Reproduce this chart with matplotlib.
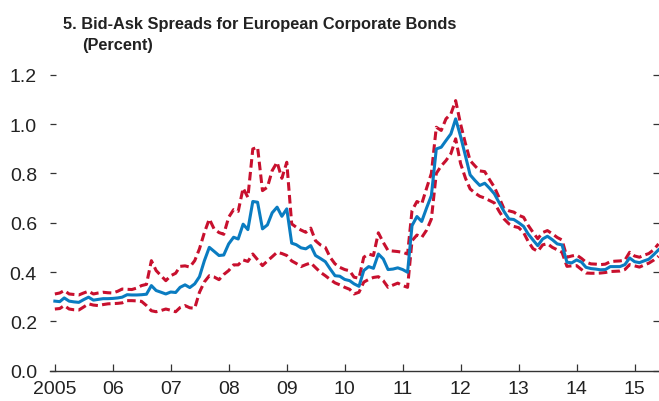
import pandas as pd
import matplotlib
matplotlib.use("Agg")
import matplotlib.pyplot as plt
import matplotlib.dates as mdates

plt.rcParams['font.family'] = ['Liberation Sans', 'DejaVu Sans']

# monthly, end of month, Dec 2004 - May 2015
dates = pd.date_range('2004-12-31', periods=126, freq='ME')

mean_spread = [
    0.282, 0.280, 0.295, 0.282, 0.279, 0.277, 0.288, 0.298, 0.286, 0.289,
    0.292, 0.292, 0.293, 0.295, 0.298, 0.308, 0.307, 0.307, 0.308, 0.310,
    0.345, 0.325, 0.318, 0.311, 0.319, 0.317, 0.338, 0.348, 0.337, 0.352,
    0.381, 0.446, 0.500, 0.484, 0.467, 0.469, 0.514, 0.541, 0.534, 0.594,
    0.572, 0.686, 0.683, 0.575, 0.591, 0.640, 0.663, 0.626, 0.656, 0.517,
    0.511, 0.498, 0.494, 0.507, 0.467, 0.455, 0.442, 0.413, 0.385, 0.383,
    0.370, 0.365, 0.352, 0.342, 0.406, 0.422, 0.415, 0.473, 0.453, 0.410,
    0.412, 0.417, 0.410, 0.399, 0.588, 0.625, 0.605, 0.660, 0.710, 0.899,
    0.906, 0.933, 0.960, 1.021, 0.950, 0.870, 0.794, 0.771, 0.751, 0.760,
    0.740, 0.717, 0.680, 0.645, 0.615, 0.613, 0.600, 0.585, 0.555, 0.530,
    0.507, 0.534, 0.545, 0.531, 0.514, 0.510, 0.440, 0.437, 0.449, 0.440,
    0.419, 0.414, 0.412, 0.409, 0.410, 0.422, 0.422, 0.422, 0.430, 0.457,
    0.442, 0.438, 0.445, 0.452, 0.470, 0.490,
]

upper_band = [
    0.311, 0.315, 0.325, 0.311, 0.309, 0.307, 0.315, 0.322, 0.311, 0.315,
    0.318, 0.316, 0.315, 0.322, 0.331, 0.330, 0.329, 0.335, 0.345, 0.350,
    0.446, 0.406, 0.385, 0.365, 0.385, 0.395, 0.423, 0.425, 0.420, 0.446,
    0.494, 0.560, 0.615, 0.575, 0.560, 0.553, 0.622, 0.653, 0.646, 0.740,
    0.703, 0.899, 0.906, 0.730, 0.744, 0.811, 0.845, 0.780, 0.845, 0.595,
    0.582, 0.570, 0.561, 0.578, 0.527, 0.510, 0.500, 0.460, 0.433, 0.419,
    0.410, 0.405, 0.379, 0.375, 0.460, 0.473, 0.467, 0.559, 0.520, 0.487,
    0.485, 0.483, 0.480, 0.473, 0.649, 0.686, 0.676, 0.740, 0.800, 0.987,
    0.974, 1.021, 1.041, 1.095, 1.000, 0.920, 0.852, 0.830, 0.810, 0.807,
    0.775, 0.744, 0.700, 0.656, 0.648, 0.643, 0.630, 0.622, 0.590, 0.561,
    0.535, 0.560, 0.568, 0.555, 0.540, 0.530, 0.460, 0.465, 0.469, 0.455,
    0.440, 0.433, 0.432, 0.430, 0.432, 0.442, 0.444, 0.445, 0.448, 0.480,
    0.465, 0.460, 0.468, 0.475, 0.490, 0.514,
]

lower_band = [
    0.250, 0.252, 0.264, 0.250, 0.247, 0.246, 0.258, 0.271, 0.266, 0.264,
    0.268, 0.271, 0.272, 0.273, 0.275, 0.284, 0.284, 0.283, 0.281, 0.264,
    0.243, 0.239, 0.244, 0.250, 0.245, 0.239, 0.256, 0.264, 0.255, 0.253,
    0.318, 0.360, 0.385, 0.380, 0.369, 0.390, 0.406, 0.429, 0.429, 0.449,
    0.443, 0.473, 0.450, 0.426, 0.445, 0.462, 0.480, 0.475, 0.467, 0.445,
    0.435, 0.422, 0.430, 0.437, 0.418, 0.399, 0.385, 0.370, 0.356, 0.348,
    0.338, 0.330, 0.311, 0.318, 0.359, 0.370, 0.378, 0.381, 0.365, 0.338,
    0.347, 0.355, 0.345, 0.338, 0.527, 0.550, 0.540, 0.570, 0.615, 0.800,
    0.830, 0.852, 0.880, 0.940, 0.840, 0.780, 0.737, 0.720, 0.707, 0.700,
    0.690, 0.680, 0.645, 0.615, 0.595, 0.585, 0.580, 0.560, 0.525, 0.495,
    0.484, 0.510, 0.515, 0.500, 0.490, 0.480, 0.423, 0.425, 0.426, 0.410,
    0.396, 0.395, 0.395, 0.396, 0.398, 0.402, 0.403, 0.404, 0.410, 0.430,
    0.425, 0.420, 0.428, 0.436, 0.448, 0.464,
]

year_ticks = pd.date_range('2005-01-01', '2015-01-01', freq='YS')
year_labels = ['2005', '06', '07', '08', '09', '10', '11', '12', '13', '14', '15']
y_ticks = [0.0, 0.2, 0.4, 0.6, 0.8, 1.0, 1.2]

blue = '#0a7cc1'
red = '#c8102e'
txt = '#222222'

fig = plt.figure(figsize=(6.59, 4.02), dpi=100)
ax = fig.add_axes([0.0759, 0.0754, 1 - 0.0759, 0.7363])

ax.plot(dates, upper_band, color=red, lw=2.2, dashes=(2.8, 1.4))
ax.plot(dates, lower_band, color=red, lw=2.2, dashes=(2.8, 1.4))
ax.plot(dates, mean_spread, color=blue, lw=2.2)

ax.set_ylim(0, 1.2)
x0 = mdates.date2num(pd.Timestamp('2005-01-01')) - 31.5
x1 = mdates.date2num(pd.Timestamp('2015-01-01')) + 153
ax.set_xlim(x0, x1)

ax.set_xticks(year_ticks)
ax.set_xticklabels(year_labels)
ax.set_yticks(y_ticks)
ax.set_yticklabels([f'{v:.1f}' for v in y_ticks])

for s in ['top', 'left', 'right']:
    ax.spines[s].set_visible(False)
ax.spines['bottom'].set_linewidth(1.0)
ax.spines['bottom'].set_color('#333333')

ax.tick_params(axis='x', direction='in', length=5, width=0.9, color='#333333',
               pad=6.9, labelsize=14, labelcolor=txt)
ax.tick_params(axis='y', direction='in', length=4.3, width=0.9, color='#333333',
               pad=9.4, labelsize=14, labelcolor=txt, right=True)

fig.text(63 / 659, 1 - 29.3 / 402, '5. Bid-Ask Spreads for European Corporate Bonds',
         fontsize=11.8, fontweight='bold', color=txt, va='baseline')
fig.text(81.7 / 659, 1 - 50 / 402, '(Percent)',
         fontsize=11.8, fontweight='bold', color=txt, va='baseline')

fig.savefig('out.png', dpi=100)
